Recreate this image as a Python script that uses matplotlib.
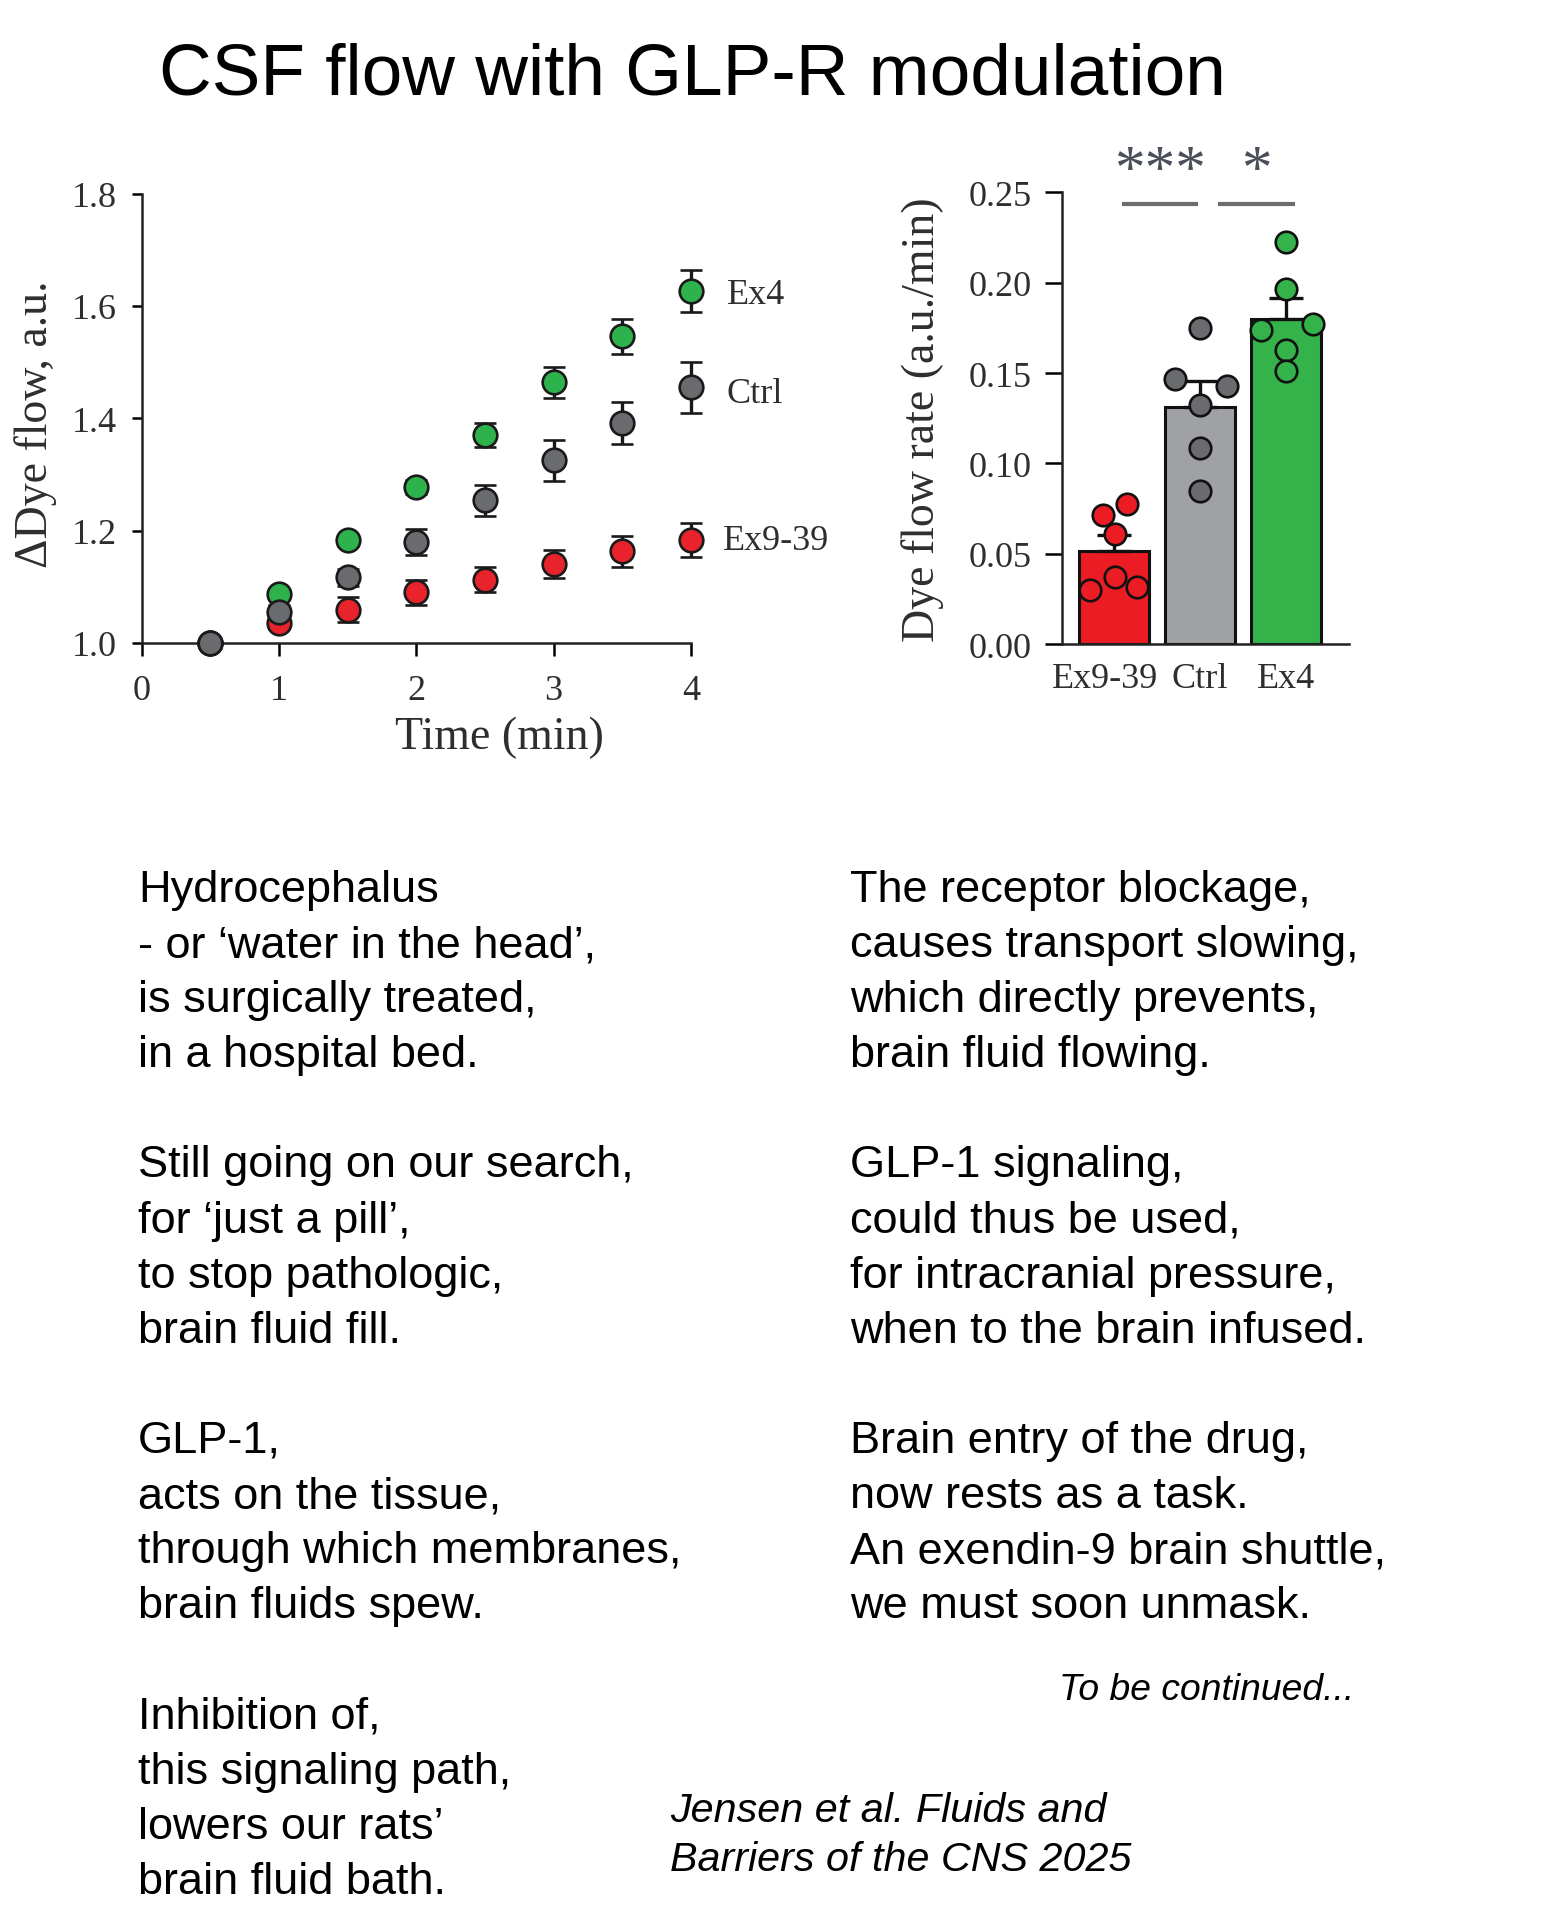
import numpy as np
import matplotlib
matplotlib.use('Agg')
import matplotlib.pyplot as plt
from matplotlib.transforms import ScaledTranslation

# ---- data: time course (left panel) ----
time = [0.5, 1.0, 1.5, 2.0, 2.5, 3.0, 3.5, 4.0]
ctrl = [1.00, 1.056, 1.117, 1.180, 1.254, 1.325, 1.392, 1.455]
ctrl_err = [0.0, 0.012, 0.015, 0.023, 0.028, 0.036, 0.037, 0.045]
ex4 = [1.00, 1.088, 1.183, 1.278, 1.370, 1.464, 1.546, 1.627]
ex4_err = [0.0, 0.008, 0.010, 0.012, 0.021, 0.028, 0.031, 0.037]
ex939 = [1.00, 1.035, 1.059, 1.090, 1.113, 1.140, 1.163, 1.183]
ex939_err = [0.0, 0.010, 0.022, 0.023, 0.023, 0.025, 0.028, 0.030]

# ---- data: flow rate (right panel) ----
groups = ['Ex9-39', 'Ctrl', 'Ex4']
rate_mean = [0.0515, 0.131, 0.180]
rate_sem = [0.0087, 0.0145, 0.0115]
ex939_pts = [0.0297, 0.0373, 0.0317, 0.0608, 0.0712, 0.0774]
ex939_jit = [-0.27, 0.02, 0.27, 0.02, -0.12, 0.15]
ctrl_pts = [0.1749, 0.1469, 0.1427, 0.1324, 0.1085, 0.0846]
ctrl_jit = [0.0, -0.29, 0.32, 0.0, 0.0, 0.0]
ex4_pts = [0.2226, 0.1967, 0.1739, 0.1770, 0.1625, 0.1510]
ex4_jit = [0.0, 0.0, -0.29, 0.31, 0.0, 0.0]

poem_left = ['Hydrocephalus', '- or \u2018water in the head\u2019,', 'is surgically treated,',
             'in a hospital bed.', '',
             'Still going on our search,', 'for \u2018just a pill\u2019,', 'to stop pathologic,',
             'brain fluid fill.', '',
             'GLP-1,', 'acts on the tissue,', 'through which membranes,', 'brain fluids spew.', '',
             'Inhibition of,', 'this signaling path,', 'lowers our rats\u2019', 'brain fluid bath.']
poem_right = ['The receptor blockage,', 'causes transport slowing,', 'which directly prevents,',
              'brain fluid flowing.', '',
              'GLP-1 signaling,', 'could thus be used,', 'for intracranial pressure,',
              'when to the brain infused.', '',
              'Brain entry of the drug,', 'now rests as a task.', 'An exendin-9 brain shuttle,',
              'we must soon unmask.']

GREEN = '#2eb24b'
GRAY = '#6a6b6e'
RED = '#e8232b'
BAR_COLORS = ['#ec1c24', '#a0a1a4', '#34b34a']
PT_COLORS = ['#ec1c24', '#6a6b6e', '#34b34a']
TXT = '#2e2e2e'
SERIF = ['Liberation Serif', 'DejaVu Serif']
SANS = ['Liberation Sans', 'DejaVu Sans']

W, H = 1562, 1931
fig = plt.figure(figsize=(W / 100, H / 100), dpi=100)

fig.text(692 / W, 1 - 76 / H, 'CSF flow with GLP-R modulation', family=SANS,
         fontsize=52.6, ha='center', va='center')

# ---- left panel ----
ax = fig.add_axes([141.7 / W, 1 - 644 / H, 549.3 / W, 449.4 / H])
for y, e, c in [(ex939, ex939_err, RED), (ex4, ex4_err, GREEN), (ctrl, ctrl_err, GRAY)]:
    ax.errorbar(time, y, yerr=e, fmt='o', color=c, ecolor='#1a1a1a', elinewidth=2.4,
                capsize=8, capthick=2.4, markersize=17, markeredgecolor='#1a1a1a',
                markeredgewidth=1.9, clip_on=False, zorder=3)
ax.text(4.26, 1.62, 'Ex4', family=SERIF, fontsize=26, color=TXT, va='center')
ax.text(4.26, 1.445, 'Ctrl', family=SERIF, fontsize=26, color=TXT, va='center')
ax.text(4.23, 1.182, 'Ex9-39', family=SERIF, fontsize=26, color=TXT, va='center')
ax.set_xlim(0, 4)
ax.set_ylim(1.0, 1.8)
ax.set_xticks([0, 1, 2, 3, 4])
ax.set_yticks([1.0, 1.2, 1.4, 1.6, 1.8])
ax.set_yticklabels(['1.0', '1.2', '1.4', '1.6', '1.8'])
for s in ['top', 'right']:
    ax.spines[s].set_visible(False)
for s in ['left', 'bottom']:
    ax.spines[s].set_linewidth(1.8)
    ax.spines[s].set_color('#222222')
ax.tick_params(axis='x', length=9, width=1.8, pad=13, labelsize=26, labelcolor=TXT)
ax.tick_params(axis='y', length=7, width=1.8, pad=11, labelsize=26, labelcolor=TXT)
for lab in ax.get_xticklabels() + ax.get_yticklabels():
    lab.set_family(SERIF)
ax.set_xlabel('Time (min)', family=SERIF, fontsize=33, color=TXT)
ax.set_ylabel('\u0394Dye flow, a.u.', family=SERIF, fontsize=33, color=TXT)
ax.xaxis.set_label_coords(0.652, -0.162)
ax.yaxis.set_label_coords(-0.154, 0.49)

# ---- right panel ----
bx = fig.add_axes([1062 / W, 1 - 645 / H, 287 / W, 451.6 / H])
xpos = np.arange(len(groups))
bx.bar(xpos, rate_mean, width=0.81, color=BAR_COLORS, edgecolor='#111111', linewidth=2.2, zorder=2)
bx.errorbar(xpos, rate_mean, yerr=[[0, 0, 0], rate_sem], fmt='none', ecolor='#111111',
            elinewidth=2.4, capsize=12, capthick=2.4, zorder=3)
for i, (pts, jit) in enumerate([(ex939_pts, ex939_jit), (ctrl_pts, ctrl_jit), (ex4_pts, ex4_jit)]):
    bx.plot(i + np.array(jit), pts, 'o', color=PT_COLORS[i], markersize=15.5,
            markeredgecolor='#111111', markeredgewidth=1.9, zorder=4, clip_on=False)
bx.plot([0.12, 0.96], [0.2435, 0.2435], color='#6d6d6d', lw=3, clip_on=False)
bx.plot([1.23, 2.08], [0.2435, 0.2435], color='#6d6d6d', lw=3, clip_on=False)
bx.text(0.54, 0.2615, '***', family=SERIF, fontsize=44, color='#4a4f5a', ha='center', va='center')
bx.text(1.66, 0.2615, '*', family=SERIF, fontsize=44, color='#4a4f5a', ha='center', va='center')
bx.set_xlim(-0.6, 2.73)
bx.set_ylim(0, 0.25)
bx.set_xticks(xpos)
bx.set_xticklabels(groups)
bx.set_yticks([0, 0.05, 0.10, 0.15, 0.20, 0.25])
bx.set_yticklabels(['0.00', '0.05', '0.10', '0.15', '0.20', '0.25'])
for s in ['top', 'right']:
    bx.spines[s].set_visible(False)
for s in ['left', 'bottom']:
    bx.spines[s].set_linewidth(1.8)
    bx.spines[s].set_color('#222222')
bx.tick_params(axis='x', length=0, pad=13, labelsize=26, labelcolor=TXT)
bx.tick_params(axis='y', length=12, width=1.8, pad=10, labelsize=26, labelcolor=TXT)
for lab in bx.get_xticklabels() + bx.get_yticklabels():
    lab.set_family(SERIF)
first = bx.get_xticklabels()[0]
first.set_transform(first.get_transform() + ScaledTranslation(-0.09, 0, fig.dpi_scale_trans))
bx.set_ylabel('Dye flow rate (a.u./min)', family=SERIF, fontsize=33, color=TXT)
bx.yaxis.set_label_coords(-0.41, 0.5)

# ---- poem ----
for i, line in enumerate(poem_left):
    fig.text(138 / W, 1 - (902 + i * 55.1) / H, line, family=SANS, fontsize=32.5, va='baseline')
for i, line in enumerate(poem_right):
    fig.text(850 / W, 1 - (902 + i * 55.1) / H, line, family=SANS, fontsize=32.5, va='baseline')

fig.text(1059 / W, 1 - 1700 / H, 'To be continued...', family=SANS, style='italic',
         fontsize=26.8, va='baseline')
fig.text(670 / W, 1 - 1822 / H, 'Jensen et al. Fluids and', family=SANS, style='italic',
         fontsize=29.7, va='baseline')
fig.text(670 / W, 1 - 1871 / H, 'Barriers of the CNS 2025', family=SANS, style='italic',
         fontsize=29.7, va='baseline')

plt.savefig('out.png', dpi=100)
plt.close()
